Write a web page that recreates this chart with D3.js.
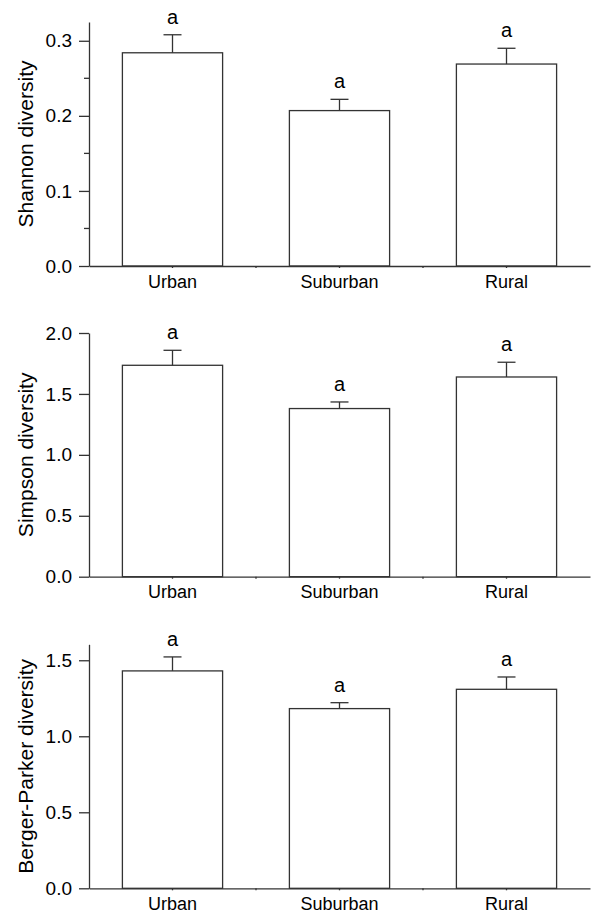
<!DOCTYPE html>
<html>
<head>
<meta charset="utf-8">
<script src="https://cdn.jsdelivr.net/npm/d3@7"></script>
<style>
  body { margin: 0; background: #fff; }
  text { font-family: Arial, "Liberation Sans", sans-serif; fill: #000; }
</style>
</head>
<body>
<svg id="graph"></svg>
<script>
// data
var categories = ["Urban", "Suburban", "Rural"];
var shannonMean = [0.284, 0.207, 0.269];
var shannonSE   = [0.024, 0.015, 0.021];
var simpsonMean = [1.735, 1.380, 1.639];
var simpsonSE   = [0.123, 0.054, 0.121];
var bergerMean  = [1.430, 1.182, 1.309];
var bergerSE    = [0.092, 0.039, 0.081];
var letters     = ["a", "a", "a"];

var shannonTicks = [0.0, 0.1, 0.2, 0.3];
var shannonMinor = [0.05, 0.15, 0.25];
var simpsonTicks = [0.0, 0.5, 1.0, 1.5, 2.0];
var bergerTicks  = [0.0, 0.5, 1.0, 1.5];

width = 594;
height = 913;
lineColor = "#333";

svg = d3.select("#graph")
    .attr("width", width)
    .attr("height", height);

// shared x scale: band from y axis to right end
x = d3.scaleBand()
    .domain(categories)
    .range([89, 590])
    .paddingInner(0.4)
    .paddingOuter(0.2);

panels = [
    { label: "Shannon diversity", mean: shannonMean, se: shannonSE, max: 0.325,
      top: 22, zero: 266, ticks: shannonTicks, minor: shannonMinor },
    { label: "Simpson diversity", mean: simpsonMean, se: simpsonSE, max: 2.0,
      top: 333, zero: 576.7, ticks: simpsonTicks, minor: [] },
    { label: "Berger-Parker diversity", mean: bergerMean, se: bergerSE, max: 1.605,
      top: 644.3, zero: 888.3, ticks: bergerTicks, minor: [] }
];

panels.forEach(function(p) {
    var y = d3.scaleLinear()
        .domain([0, p.max])
        .range([p.zero, p.top]);

    var g = svg.append("g");

    // bars
    g.selectAll("rect.bar")
        .data(p.mean)
        .enter().append("rect")
            .attr("x", (d, i) => x(categories[i]))
            .attr("y", (d) => y(d))
            .attr("width", x.bandwidth())
            .attr("height", (d) => y(0) - y(d))
            .attr("style", "fill:#fff; stroke:" + lineColor + "; stroke-width:1.3");

    // upper error bars
    var eb = g.selectAll("g.err")
        .data(p.mean)
        .enter().append("g");
    eb.append("line")
        .attr("x1", (d, i) => x(categories[i]) + x.bandwidth() / 2)
        .attr("x2", (d, i) => x(categories[i]) + x.bandwidth() / 2)
        .attr("y1", (d) => y(d))
        .attr("y2", (d, i) => y(d + p.se[i]))
        .attr("style", "stroke:" + lineColor + "; stroke-width:1.3");
    eb.append("line")
        .attr("x1", (d, i) => x(categories[i]) + x.bandwidth() / 2 - 9)
        .attr("x2", (d, i) => x(categories[i]) + x.bandwidth() / 2 + 9)
        .attr("y1", (d, i) => y(d + p.se[i]))
        .attr("y2", (d, i) => y(d + p.se[i]))
        .attr("style", "stroke:" + lineColor + "; stroke-width:1.3");

    // significance letters
    g.selectAll("text.letter")
        .data(p.mean)
        .enter().append("text")
            .attr("x", (d, i) => x(categories[i]) + x.bandwidth() / 2)
            .attr("y", (d, i) => y(d + p.se[i]) - 11)
            .attr("text-anchor", "middle")
            .attr("style", "font-size:20px")
            .text((d, i) => letters[i]);

    // y axis
    var ya = g.append("g")
        .attr("transform", "translate(" + x.range()[0] + ",0)")
        .call(d3.axisLeft(y)
            .tickValues(p.ticks)
            .tickSize(10)
            .tickSizeOuter(0)
            .tickPadding(7)
            .tickFormat(d3.format(".1f")));
    ya.selectAll("path, line").attr("stroke", lineColor).attr("stroke-width", 1.3);
    ya.selectAll("text").attr("style", "font-size:19px; font-family:Arial, 'Liberation Sans', sans-serif").attr("fill", "#000");

    // minor ticks
    ya.selectAll("line.minor")
        .data(p.minor)
        .enter().append("line")
            .attr("x1", -5)
            .attr("x2", 0)
            .attr("y1", (d) => y(d))
            .attr("y2", (d) => y(d))
            .attr("stroke", lineColor)
            .attr("stroke-width", 1.3);

    // x axis
    var xa = g.append("g")
        .attr("transform", "translate(0," + p.zero + ")")
        .call(d3.axisBottom(x)
            .tickSize(2)
            .tickSizeOuter(0)
            .tickPadding(7));
    xa.selectAll("path, line").attr("stroke", lineColor).attr("stroke-width", 1.3);
    xa.selectAll("text").attr("style", "font-size:18px; font-family:Arial, 'Liberation Sans', sans-serif").attr("fill", "#000");

    // boundary ticks between categories
    var step = x.step();
    xa.selectAll("line.sep")
        .data(categories.slice(1))
        .enter().append("line")
            .attr("x1", (d) => x(d) + x.bandwidth() / 2 - step / 2)
            .attr("x2", (d) => x(d) + x.bandwidth() / 2 - step / 2)
            .attr("y1", 0)
            .attr("y2", 2)
            .attr("stroke", lineColor)
            .attr("stroke-width", 1.3);

    // y axis title
    g.append("text")
        .attr("transform", "translate(33," + (p.zero + p.top) / 2 + ") rotate(-90)")
        .attr("text-anchor", "middle")
        .attr("style", "font-size:21px")
        .text(p.label);
});
</script>
</body>
</html>
